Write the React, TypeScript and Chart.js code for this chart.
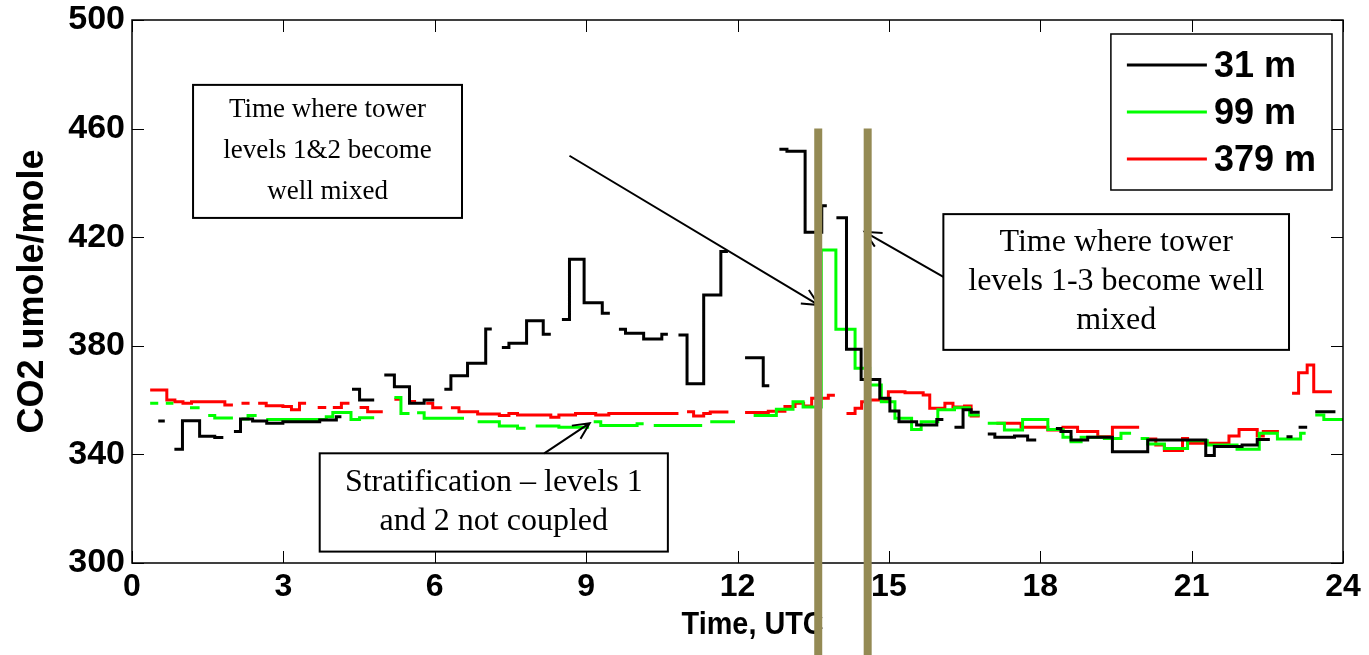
import React, { useEffect, useRef } from "react";
import { Chart, registerables } from "chart.js";

Chart.register(...registerables);

// ---- axis ticks ----
const xTickValues = [0, 3, 6, 9, 12, 15, 18, 21, 24];
const yTickValues = [300, 340, 380, 420, 460, 500];
const xTitle = "Time, UTC";
const yTitle = "CO2 umole/mole";

// ---- series: time (hours UTC) and CO2 (umole/mole); null = gap ----
const hours31 = [
  0.52, 0.65, 0.66,
  0.84, 1.0, 1.34, 1.64, 1.81, 1.82,
  2.02, 2.15, 2.39, 2.67, 2.99, 3.72, 4.05, 4.15, 4.16,
  4.36, 4.51, 4.8, 4.81,
  5.0, 5.2, 5.5, 5.79, 5.99, 6.0,
  6.19, 6.32, 6.65, 7.01, 7.13, 7.14,
  7.33, 7.47, 7.82, 8.15, 8.3, 8.31,
  8.52, 8.67, 8.96, 9.32, 9.47, 9.48,
  9.65, 9.78, 10.14, 10.5, 10.62, 10.63,
  10.83, 11.0, 11.33, 11.67, 11.81, 11.82,
  12.15, 12.51, 12.63, 12.64,
  12.83, 12.98, 13.34, 13.67, 13.77, 13.78,
  13.96, 14.16, 14.45, 14.82, 15.02, 15.2, 15.55, 15.95, 16.08, 16.09,
  16.3, 16.47, 16.63, 16.8, 16.81,
  16.96, 17.1, 17.49, 17.75, 17.92, 17.93,
  18.31, 18.41, 18.61, 18.94, 19.43, 20.13, 21.28, 21.45, 22.0, 22.3, 22.55, 22.56,
  22.88, 23.0, 23.01,
  23.12, 23.29, 23.3,
  23.45, 23.85,
];
const co2_31 = [
  352.3, 352.3, null,
  341.9, 352.4, 346.7, 346.2, 346.2, null,
  348.4, 353.0, 352.3, 351.5, 352.0, 352.7, 353.9, 353.9, null,
  364.0, 360.0, 360.0, null,
  369.2, 364.9, 358.8, 360.0, 360.0, null,
  364.0, 369.0, 373.6, 386.2, 386.2, null,
  379.4, 380.9, 389.2, 384.3, 384.3, null,
  389.7, 411.9, 395.9, 392.0, 392.0, null,
  386.1, 384.6, 382.5, 384.3, 384.3, null,
  384.0, 366.0, 398.7, 414.7, 414.7, null,
  375.6, 365.3, 365.3, null,
  452.4, 451.7, 421.8, 431.6, 431.6, null,
  427.2, 378.7, 367.6, 360.7, 356.0, 352.0, 350.8, 352.9, 352.9, null,
  350.0, 356.4, 355.5, 355.5, null,
  347.5, 346.3, 346.8, 345.3, 345.3, null,
  349.5, 348.4, 345.3, 346.3, 341.0, 345.3, 339.6, 342.9, 343.5, 345.5, 345.5, null,
  346.5, 346.5, null,
  350.0, 350.0, null,
  355.7, 355.7,
];

const hours99 = [
  0.36, 0.52, 0.53,
  0.67, 0.82, 0.83,
  1.15, 1.34, 1.35,
  1.51, 1.64, 2.0, 2.01,
  2.17, 2.3, 2.47, 2.48,
  2.66, 3.85, 3.98, 4.34, 4.51, 4.8, 4.81,
  5.2, 5.33, 5.5, 5.51,
  5.65, 5.79, 6.58, 6.59,
  6.85, 7.28, 7.64, 7.8, 7.81,
  8.0, 8.46, 9.06, 9.07,
  9.15, 9.29, 10.01, 10.14, 10.15,
  10.34, 11.3, 11.31,
  11.46, 11.95, 11.96,
  12.32, 12.77, 13.1, 13.3, 13.66, 13.95, 14.33, 14.62, 14.85, 15.12, 15.45, 15.64, 15.97, 16.3, 16.6, 16.8, 16.81,
  16.96, 17.29, 17.65, 18.15, 18.45, 18.61, 18.81, 19.27, 19.6, 19.8, 19.81,
  19.99, 20.13, 20.46, 20.92, 21.31, 21.9, 22.34, 22.7, 23.16, 23.26, 23.27,
  23.45, 23.62, 24.0,
];
const co2_99 = [
  358.8, 358.8, null,
  358.8, 358.8, null,
  357.2, 357.2, null,
  354.3, 353.4, 353.4, null,
  353.0, 354.3, 354.3, null,
  352.9, 353.9, 355.4, 352.9, 353.5, 353.5, null,
  361.0, 355.1, 355.1, null,
  355.3, 353.3, 353.3, null,
  352.0, 350.5, 349.6, 349.6, null,
  350.5, 350.0, 350.0, null,
  352.0, 350.6, 351.3, 351.3, null,
  350.6, 350.6, null,
  352.0, 352.0, null,
  354.3, 356.6, 359.4, 357.5, 415.3, 386.1, 371.7, 365.6, 359.4, 353.3, 349.2, 352.0, 356.4, 357.2, 354.5, 354.5, null,
  351.5, 349.0, 352.9, 349.2, 346.3, 344.7, 346.3, 345.9, 347.8, 347.8, null,
  345.9, 343.8, 342.2, 345.0, 343.5, 341.9, 347.8, 345.7, 347.8, 347.8, null,
  354.5, 352.9, 352.9,
];

const hours379 = [
  0.36, 0.69, 0.85, 1.01, 1.18, 1.84, 2.0, 2.01,
  2.17, 2.33, 2.34,
  2.5, 2.66, 2.99, 3.16, 3.32, 3.45, 3.46,
  3.68, 3.85, 3.86,
  3.98, 4.15, 4.31, 4.32,
  4.51, 4.67, 4.97, 4.98,
  5.2, 5.33, 5.34,
  5.5, 5.63, 5.64,
  5.83, 5.96, 6.15, 6.16,
  6.32, 6.48, 6.85, 7.28, 7.47, 7.64, 8.3, 8.46, 8.79, 9.19, 9.45, 10.83, 10.84,
  11.0, 11.13, 11.33, 11.46, 11.82, 11.83,
  12.15, 12.61, 12.94, 13.14, 13.31, 13.47, 13.8, 13.93, 13.94,
  14.16, 14.33, 14.46, 14.62, 14.99, 15.32, 15.68, 15.81, 16.11, 16.27, 16.5, 16.63, 16.8, 16.81,
  17.13, 17.62, 18.15, 18.45, 18.74, 19.14, 19.43, 19.96, 19.97,
  20.13, 20.29, 20.46, 20.82, 20.92, 21.74, 21.94, 22.3, 22.42, 22.73, 22.74,
  22.99, 23.12, 23.29, 23.42, 23.78,
];
const co2_379 = [
  363.7, 360.0, 359.4, 358.8, 359.4, 358.2, 358.2, null,
  358.8, 358.8, null,
  358.8, 357.9, 357.6, 356.4, 358.8, 358.8, null,
  357.3, 357.3, null,
  357.3, 358.8, 358.8, null,
  357.3, 355.7, 355.7, null,
  360.3, 360.3, null,
  359.5, 359.5, null,
  358.8, 357.2, 357.2, null,
  357.2, 355.7, 354.9, 354.3, 355.1, 354.5, 353.7, 354.5, 355.1, 354.5, 355.1, 355.1, null,
  355.7, 354.1, 355.1, 355.6, 355.6, null,
  355.4, 355.9, 357.6, 358.8, 357.8, 360.7, 361.8, 361.8, null,
  355.1, 357.0, 359.4, 360.0, 363.1, 362.7, 361.9, 357.0, 358.8, 357.5, 357.8, 354.1, 354.1, null,
  351.5, 350.0, 349.0, 350.0, 348.4, 346.5, 350.0, 350.0, null,
  345.7, 343.5, 341.4, 345.9, 344.1, 346.8, 349.2, 346.8, 348.4, 348.4, null,
  362.5, 370.1, 372.9, 363.1, 363.1,
];

const seriesLabels = ["31 m", "99 m", "379 m"];
const seriesColors = ["#000000", "#00ff00", "#ff0000"];

// ---- annotations (data units: hours, umole/mole) ----
const mixTimes = [13.6, 14.58];
const mixTop = 460;
const noteLines = [
  ["Time where tower", "levels 1&2 become", "well mixed"],
  ["Time where tower", "levels 1-3 become well", "mixed"],
  ["Stratification \u2013 levels 1", "and 2 not coupled"],
];
const noteFontSize = [27, 32, 32];
const noteLineGap = [41, 39, 39];
const noteX0 = [1.21, 16.08, 3.72];
const noteX1 = [6.54, 22.93, 10.62];
const noteYTop = [476.1, 428.5, 340.4];
const noteYBottom = [427.1, 378.5, 304.2];
const arrowFrom = [[8.67, 450.0], [16.08, 405.4], [8.17, 340.4]];
const arrowTo = [[13.61, 395.0], [14.52, 422.0], [9.07, 351.5]];

const SANS = "'Liberation Sans', Arial, sans-serif";
const SERIF = "'Liberation Serif', 'Times New Roman', serif";

function pts(ts: number[], vs: (number | null)[]) {
  return ts.map((t, i) => ({ x: t, y: vs[i] }));
}

const framePlugin = {
  id: "frame",
  afterDatasetsDraw(chart: any) {
    const { ctx, chartArea, scales } = chart;
    const { left, right, top, bottom } = chartArea;
    ctx.save();
    ctx.strokeStyle = "#000";
    ctx.lineWidth = 1.5;
    ctx.strokeRect(left, top, right - left, bottom - top);
    ctx.lineWidth = 1;
    const tl = 12;
    yTickValues.forEach((v) => {
      const y = Math.round(scales.y.getPixelForValue(v)) + 0.5;
      ctx.beginPath();
      ctx.moveTo(left, y);
      ctx.lineTo(left + tl, y);
      ctx.moveTo(right, y);
      ctx.lineTo(right - tl, y);
      ctx.stroke();
    });
    xTickValues.forEach((v) => {
      const x = Math.round(scales.x.getPixelForValue(v)) + 0.5;
      ctx.beginPath();
      ctx.moveTo(x, bottom);
      ctx.lineTo(x, bottom - tl);
      ctx.moveTo(x, top);
      ctx.lineTo(x, top + tl);
      ctx.stroke();
    });

    // x axis title (slightly condensed, as in the original)
    ctx.save();
    ctx.fillStyle = "#000";
    ctx.font = `bold 31px ${SANS}`;
    ctx.textAlign = "center";
    ctx.textBaseline = "middle";
    ctx.translate(scales.x.getPixelForValue(12.3), bottom + 62);
    ctx.scale(0.93, 1);
    ctx.fillText(xTitle, 0, 0);
    ctx.restore();

    // legend
    const lx0 = scales.x.getPixelForValue(19.4);
    const lx1 = right - 11;
    const ly0 = top + 14;
    const ly1 = top + 170;
    ctx.fillStyle = "#fff";
    ctx.fillRect(lx0, ly0, lx1 - lx0, ly1 - ly0);
    ctx.strokeStyle = "#000";
    ctx.lineWidth = 1.5;
    ctx.strokeRect(lx0, ly0, lx1 - lx0, ly1 - ly0);
    ctx.font = `bold 36px ${SANS}`;
    ctx.textBaseline = "middle";
    ctx.textAlign = "left";
    chart.data.datasets.forEach((ds: any, i: number) => {
      const y = ly0 + 31 + i * 47;
      ctx.strokeStyle = ds.borderColor;
      ctx.lineWidth = 3;
      ctx.beginPath();
      ctx.moveTo(lx0 + 16, y);
      ctx.lineTo(lx0 + 96, y);
      ctx.stroke();
      ctx.fillStyle = "#000";
      ctx.fillText(ds.label, lx0 + 103, y + 2);
    });

    // annotation boxes
    ctx.textAlign = "center";
    ctx.textBaseline = "middle";
    noteLines.forEach((lines, i) => {
      const x0 = scales.x.getPixelForValue(noteX0[i]);
      const x1 = scales.x.getPixelForValue(noteX1[i]);
      const y0 = scales.y.getPixelForValue(noteYTop[i]);
      const y1 = scales.y.getPixelForValue(noteYBottom[i]);
      ctx.fillStyle = "#fff";
      ctx.fillRect(x0, y0, x1 - x0, y1 - y0);
      ctx.strokeStyle = "#000";
      ctx.lineWidth = 2;
      ctx.strokeRect(x0, y0, x1 - x0, y1 - y0);
      ctx.fillStyle = "#000";
      ctx.font = `${noteFontSize[i]}px ${SERIF}`;
      const lh = noteLineGap[i];
      const cy = (y0 + y1) / 2;
      lines.forEach((s, k) => {
        ctx.fillText(s, (x0 + x1) / 2, cy + (k - (lines.length - 1) / 2) * lh);
      });
    });

    // arrows
    ctx.strokeStyle = "#000";
    ctx.lineWidth = 2;
    arrowFrom.forEach((f, i) => {
      const x0 = scales.x.getPixelForValue(f[0]);
      const y0 = scales.y.getPixelForValue(f[1]);
      const x1 = scales.x.getPixelForValue(arrowTo[i][0]);
      const y1 = scales.y.getPixelForValue(arrowTo[i][1]);
      const a = Math.atan2(y1 - y0, x1 - x0);
      const hl = 18;
      ctx.beginPath();
      ctx.moveTo(x0, y0);
      ctx.lineTo(x1, y1);
      ctx.moveTo(x1 - hl * Math.cos(a - 0.45), y1 - hl * Math.sin(a - 0.45));
      ctx.lineTo(x1, y1);
      ctx.lineTo(x1 - hl * Math.cos(a + 0.45), y1 - hl * Math.sin(a + 0.45));
      ctx.stroke();
    });
    ctx.restore();
  },
  afterDraw(chart: any) {
    const { ctx, scales, height } = chart;
    ctx.save();
    ctx.strokeStyle = "#948a54";
    ctx.lineWidth = 8;
    mixTimes.forEach((t) => {
      const x = scales.x.getPixelForValue(t);
      ctx.beginPath();
      ctx.moveTo(x, scales.y.getPixelForValue(mixTop));
      ctx.lineTo(x, height);
      ctx.stroke();
    });
    ctx.restore();
  },
};

export default function App() {
  const ref = useRef<HTMLCanvasElement | null>(null);
  useEffect(() => {
    if (!ref.current) return;
    const series = [
      pts(hours31, co2_31),
      pts(hours99, co2_99),
      pts(hours379, co2_379),
    ];
    const chart = new Chart(ref.current, {
      type: "line",
      data: {
        datasets: series.map((d, i) => ({
          label: seriesLabels[i],
          data: d,
          borderColor: seriesColors[i],
          backgroundColor: seriesColors[i],
          borderWidth: 3,
          pointRadius: 0,
          stepped: "before" as const,
          spanGaps: false,
          borderCapStyle: "butt" as const,
          borderJoinStyle: "miter" as const,
        })),
      },
      options: {
        animation: false,
        responsive: false,
        maintainAspectRatio: false,
        layout: { padding: { top: 20, right: 26, left: 0, bottom: 0 } },
        plugins: { legend: { display: false }, tooltip: { enabled: false } },
        scales: {
          x: {
            type: "linear",
            min: 0,
            max: 24,
            afterBuildTicks: (s: any) => {
              s.ticks = xTickValues.map((v) => ({ value: v }));
            },
            afterFit: (s: any) => {
              s.height = 92;
              s.paddingLeft = 0;
              s.paddingRight = 0;
            },
            grid: { display: false, drawTicks: false },
            border: { display: false },
            ticks: {
              color: "#000",
              padding: 5,
              maxRotation: 0,
              autoSkip: false,
              font: { family: SANS, size: 32, weight: "bold" },
            },
            title: { display: false },
          },
          y: {
            min: 300,
            max: 500,
            afterBuildTicks: (s: any) => {
              s.ticks = yTickValues.map((v) => ({ value: v }));
            },
            afterFit: (s: any) => {
              s.width = 132;
              s.paddingTop = 0;
              s.paddingBottom = 0;
            },
            grid: { display: false, drawTicks: false },
            border: { display: false },
            ticks: {
              color: "#000",
              padding: 7,
              font: { family: SANS, size: 34, weight: "bold" },
            },
            title: {
              display: true,
              text: yTitle,
              color: "#000",
              font: { family: SANS, size: 36, weight: "bold" },
              padding: { top: 11, bottom: 0 },
            },
          },
        },
      },
      plugins: [framePlugin],
    } as any);
    return () => chart.destroy();
  }, []);
  return (
    <div style={{ position: "fixed", left: 0, top: 0, width: 1369, height: 655, background: "#fff" }}>
      <canvas ref={ref} width={1369} height={655} style={{ width: 1369, height: 655 }} />
    </div>
  );
}
